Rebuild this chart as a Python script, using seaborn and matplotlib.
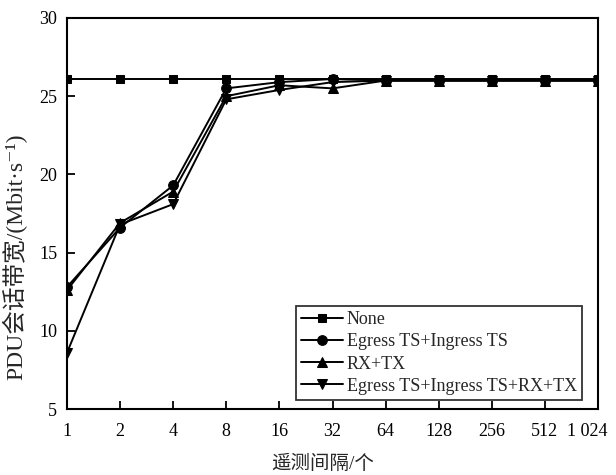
import numpy as np
import pandas as pd
import matplotlib
matplotlib.use("Agg")
import matplotlib.pyplot as plt
import matplotlib.transforms as mtransforms
import seaborn as sns

x_labels = ["1", "2", "4", "8", "16", "32", "64", "128", "256", "512", "1 024"]
series_names = ["None", "Egress TS+Ingress TS", "RX+TX", "Egress TS+Ingress TS+RX+TX"]
none_vals = [26.1, 26.1, 26.1, 26.1, 26.1, 26.1, 26.1, 26.1, 26.1, 26.1, 26.1]
egress_ingress = [12.8, 16.6, 19.3, 25.5, 25.9, 26.1, 26.0, 26.0, 26.0, 26.0, 26.0]
rx_tx = [12.6, 16.9, 18.9, 25.0, 25.7, 25.5, 26.0, 26.0, 26.0, 26.0, 26.0]
all_four = [8.6, 16.8, 18.1, 24.8, 25.4, 25.9, 26.0, 26.0, 26.0, 26.0, 26.0]

sns.set_theme(style="white")
plt.rcParams['font.family'] = ['Liberation Serif', 'Noto Sans CJK SC', 'DejaVu Serif']

rows = []
for name, vals in zip(series_names, [none_vals, egress_ingress, rx_tx, all_four]):
    for i, v in enumerate(vals):
        rows.append({"pos": i, "val": v, "series": name})
df = pd.DataFrame(rows)

fig = plt.figure(figsize=(6.16, 4.75), dpi=100)
ax = fig.add_axes([67/616, 1-409/475, 531/616, 391/475])

markers = {"None": "s", "Egress TS+Ingress TS": "o", "RX+TX": "^",
           "Egress TS+Ingress TS+RX+TX": "v"}
sizes = {"None": 6, "Egress TS+Ingress TS": 7, "RX+TX": 6.5,
         "Egress TS+Ingress TS+RX+TX": 6.5}
for name in series_names:
    sub = df[df["series"] == name]
    sns.lineplot(data=sub, x="pos", y="val", ax=ax, color="black",
                 marker=markers[name], markersize=sizes[name],
                 markeredgecolor="black", linewidth=1.4, label=name)

ax.set_xlim(0, len(x_labels) - 1)
ax.set_ylim(5, 30)
ax.set_xticks(range(len(x_labels)))
ax.set_xticklabels(x_labels)
ax.set_yticks([5, 10, 15, 20, 25, 30])
ax.tick_params(axis="both", direction="in", length=6, width=1.3,
               labelsize=13, colors="black", top=False, right=False,
               bottom=True, left=True)
ax.tick_params(axis="y", pad=7)
ax.tick_params(axis="x", pad=10)
for s in ax.spines.values():
    s.set_color("black")
    s.set_linewidth(1.5)

# shift the last x tick label left so it stays inside the figure
last = ax.get_xticklabels()[-1]
last.set_transform(last.get_transform() +
                   mtransforms.ScaledTranslation(-11/100, 0, fig.dpi_scale_trans))

ax.set_xlabel("遥测间隔/个", fontsize=14)
ax.xaxis.set_label_coords((323-67)/531, (409-455)/391)
ax.set_ylabel("PDU会话带宽/(Mbit·s⁻¹)", fontsize=17)
ax.yaxis.set_label_coords((27-67)/531, 0.39)

leg = ax.legend(loc="lower right", bbox_to_anchor=(0.970, 0.023),
                borderaxespad=0, frameon=True, fancybox=False,
                fontsize=13, labelspacing=0.28, handlelength=2.3,
                handletextpad=0.2, borderpad=0.3)
leg.get_frame().set_edgecolor("black")
leg.get_frame().set_linewidth(1.3)

fig.savefig("out.png", dpi=100)
